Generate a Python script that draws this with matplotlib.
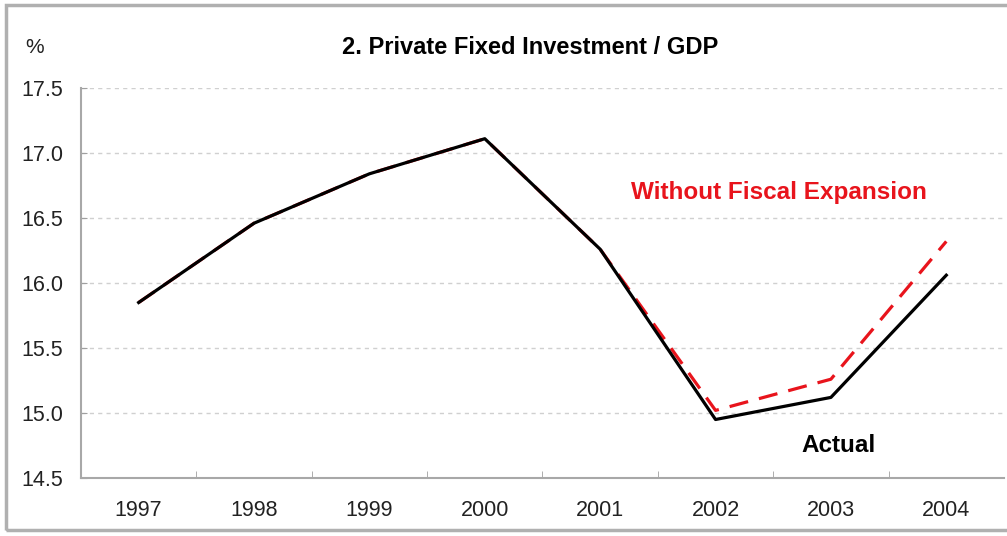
import matplotlib.pyplot as plt
from matplotlib.patches import Rectangle
from matplotlib.ticker import FixedLocator

plt.rcParams['font.family'] = ['Liberation Sans', 'DejaVu Sans']

years = ['1997', '1998', '1999', '2000', '2001', '2002', '2003', '2004']
actual = [15.85, 16.46, 16.84, 17.11, 16.26, 14.95, 15.12, 16.06]
no_fiscal = [15.85, 16.46, 16.84, 17.11, 16.26, 15.02, 15.26, 16.32]
y_ticks = [14.5, 15.0, 15.5, 16.0, 16.5, 17.0, 17.5]

fig = plt.figure(figsize=(10.07, 5.36), dpi=100)
ax = fig.add_axes([0.0804, 0.1082, 0.9166, 0.7276])

x = list(range(len(years)))
ax.plot(x, no_fiscal, color='#e8141c', lw=2.3, dashes=(6, 3.5), zorder=3)
ax.plot(x, actual, color='black', lw=2.3, zorder=4)

ax.set_xlim(-0.5, len(years) - 0.5)
ax.set_ylim(14.5, 17.5)
ax.set_yticks(y_ticks)
ax.set_yticklabels([f'{v:.1f}' for v in y_ticks])
ax.set_xticks(x)
ax.set_xticklabels(years)
ax.xaxis.set_minor_locator(FixedLocator([i + 0.5 for i in x[:-1]]))

ax.tick_params(axis='x', which='major', length=0, pad=16, labelsize=15.5, labelcolor='#222222')
ax.tick_params(axis='x', which='minor', direction='in', length=5, color='#a0a0a0')
ax.tick_params(axis='y', direction='in', length=4, color='#a0a0a0', pad=13,
               labelsize=15.5, labelcolor='#222222')

ax.grid(axis='y', color='#d0d0d0', lw=1, ls=(0, (3, 3)))
for s in ['top', 'right']:
    ax.spines[s].set_visible(False)
for s in ['left', 'bottom']:
    ax.spines[s].set_color('#a8a8a8')
    ax.spines[s].set_linewidth(1.5)

ax.text(5.55, 16.70, 'Without Fiscal Expansion', color='#e8141c', fontsize=17.5,
        fontweight='bold', ha='center', va='center')
ax.text(6.07, 14.75, 'Actual', color='black', fontsize=17.5,
        fontweight='bold', ha='center', va='center')

fig.text(0.526, 0.912, '2. Private Fixed Investment / GDP', fontsize=17,
         fontweight='bold', ha='center', va='center')
fig.text(0.034, 0.912, '%', fontsize=15, ha='center', va='center', color='#222222')

# outer frame around the panel
fig.patches.append(Rectangle((0.006, 0.012), 1.2, 0.978, transform=fig.transFigure,
                             fill=False, edgecolor='#b0b0b0', lw=2.5))

fig.savefig('out.png', dpi=100)
